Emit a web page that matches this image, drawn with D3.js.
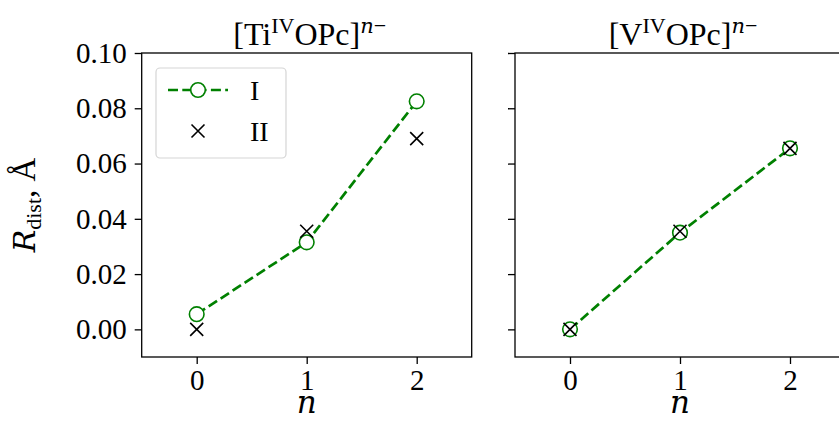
<!DOCTYPE html>
<html>
<head>
<meta charset="utf-8">
<script src="https://cdn.jsdelivr.net/npm/d3@7"></script>
<style>
  body { margin: 0; background: white; }
  svg { display: block; }
</style>
</head>
<body>
<script>
// data
var nValues = [0, 1, 2];
var yTicks = [0.00, 0.02, 0.04, 0.06, 0.08, 0.10];
var tiI = [0.0055, 0.0315, 0.0825];
var tiII = [0.0, 0.0355, 0.069];
var vI = [0.0, 0.035, 0.0655];
var vII = [0.0, 0.0355, 0.0655];
var seriesNames = ["I", "II"];

var width = 839, height = 421;
var top_ = 53, bottom = 357;
var green = "#008000";
var serif = "'Liberation Serif', 'Times New Roman', serif";
var mathIt = "'DejaVu Serif', 'Liberation Serif', serif";
var lw = 2.7, dash = "10,4.3";

var svg = d3.select("body").append("svg")
    .attr("width", width)
    .attr("height", height)
    .attr("viewBox", [0, 0, width, height])
    .style("font-family", serif);

var y = d3.scaleLinear().domain([-0.01, 0.10]).range([bottom, top_]);

function styleAxis(a) {
    a.select(".domain").remove();
    a.attr("font-family", null);
    a.selectAll("line").attr("stroke-width", 1.3);
    a.selectAll("text").style("font-family", serif).style("font-size", "29px").attr("fill", "black");
}

function panel(x0, x1, dataI, dataII, titleEl, showLabels) {
    var x = d3.scaleLinear().domain([-0.5, 2.5]).range([x0, x1]);
    var g = svg.append("g");

    // axes
    var yAxis = d3.axisLeft(y).tickValues(yTicks).tickSize(7).tickPadding(8)
        .tickFormat(showLabels ? d3.format(".2f") : "");
    var xAxis = d3.axisBottom(x).tickValues(nValues).tickSize(7).tickPadding(5)
        .tickFormat(d3.format("d"));

    g.append("g").attr("transform", "translate(" + x0 + ",0)").call(yAxis).call(styleAxis);
    g.append("g").attr("transform", "translate(0," + bottom + ")").call(xAxis).call(styleAxis);

    // frame
    g.append("rect")
        .attr("x", x0).attr("y", top_)
        .attr("width", x1 - x0).attr("height", bottom - top_)
        .attr("fill", "none").attr("stroke", "black").attr("stroke-width", 1.3);

    // series I
    var line = d3.line().x((d, i) => x(nValues[i])).y(d => y(d));
    g.append("path").datum(dataI)
        .attr("d", line)
        .attr("fill", "none").attr("stroke", green)
        .attr("stroke-width", lw).attr("stroke-dasharray", dash);
    g.selectAll(".ptI").data(dataI).join("circle")
        .attr("cx", (d, i) => x(nValues[i])).attr("cy", d => y(d))
        .attr("r", 7.3).attr("fill", "white")
        .attr("stroke", green).attr("stroke-width", 1.6);

    // series II
    var s = 6.5;
    g.selectAll(".ptII").data(dataII).join("path")
        .attr("d", (d, i) => {
            var cx = x(nValues[i]), cy = y(d);
            return "M" + (cx - s) + "," + (cy - s) + "L" + (cx + s) + "," + (cy + s) +
                   "M" + (cx - s) + "," + (cy + s) + "L" + (cx + s) + "," + (cy - s);
        })
        .attr("stroke", "black").attr("stroke-width", 1.6).attr("fill", "none");

    // title
    var t = svg.append("text")
        .attr("x", (x0 + x1) / 2 + 3).attr("y", 45)
        .attr("text-anchor", "middle").style("font-size", "32px");
    t.append("tspan").text("[" + titleEl);
    t.append("tspan").style("font-size", "22px").attr("dy", -12).text("IV");
    t.append("tspan").attr("dy", 12).text("OPc]");
    t.append("tspan").style("font-size", "21px").attr("dy", -12)
        .style("font-family", mathIt).style("font-style", "italic").text("n");
    t.append("tspan").style("font-size", "22px").text("\u2212");

    // x label
    svg.append("text")
        .attr("x", (x0 + x1) / 2).attr("y", 413)
        .attr("text-anchor", "middle").style("font-size", "31px")
        .style("font-family", mathIt).style("font-style", "italic").text("n");

    return x;
}

panel(141.7, 471.7, tiI, tiII, "Ti", true);
panel(515, 845, vI, vII, "V", false);

// y label
var yl = svg.append("text")
    .attr("transform", "translate(35," + ((top_ + bottom) / 2) + ") rotate(-90)")
    .attr("text-anchor", "middle").style("font-size", "33px");
yl.append("tspan").style("font-family", mathIt).style("font-style", "italic")
    .style("font-size", "30px").text("R");
yl.append("tspan").style("font-size", "22px").attr("dy", 6).text("dist");
yl.append("tspan").attr("dy", -6).text(", \u00c5");

// legend
var lg = svg.append("g");
lg.append("rect")
    .attr("x", 156).attr("y", 68).attr("width", 130).attr("height", 90)
    .attr("rx", 4).attr("fill", "white").attr("fill-opacity", 0.8)
    .attr("stroke", "#d5d5d5").attr("stroke-width", 1.2);
var rows = [90, 131];
lg.append("line")
    .attr("x1", 168).attr("x2", 228).attr("y1", rows[0]).attr("y2", rows[0])
    .attr("stroke", green).attr("stroke-width", lw).attr("stroke-dasharray", dash)
    .attr("stroke-dashoffset", 0);
lg.append("circle").attr("cx", 198).attr("cy", rows[0]).attr("r", 7.3)
    .attr("fill", "white").attr("stroke", green).attr("stroke-width", 1.6);
lg.append("path")
    .attr("d", "M191.5," + (rows[1] - 6.5) + "L204.5," + (rows[1] + 6.5) +
               "M191.5," + (rows[1] + 6.5) + "L204.5," + (rows[1] - 6.5))
    .attr("stroke", "black").attr("stroke-width", 1.6);
lg.selectAll(".lt").data(seriesNames).join("text")
    .attr("x", 250).attr("y", (d, i) => rows[i] + 10)
    .style("font-size", "28px").text(d => d);
</script>
</body>
</html>
